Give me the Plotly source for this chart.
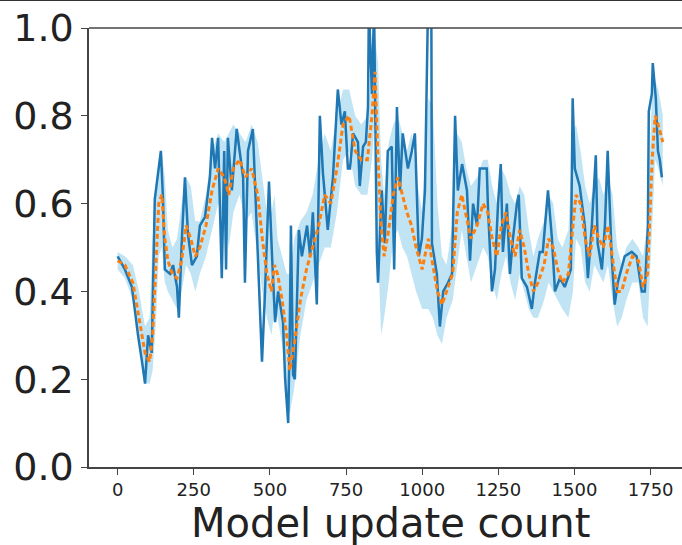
import plotly.graph_objects as go

# raw series (blue)
raw_x = [0, 24, 47, 57, 67, 80, 90, 100, 112, 122, 132, 142, 149, 155, 172, 182, 195, 201, 211, 221,
         231, 244, 260, 270, 287, 303, 310, 320, 330, 342, 350, 356, 362, 375, 391, 402, 412, 418, 428, 444,
         457, 467, 474, 484, 497, 507, 517, 527, 543, 550, 560, 565, 569, 576, 582, 595, 605, 622, 632, 641,
         654, 664, 674, 690, 707, 723, 735, 746, 756, 763, 773, 789, 795, 806, 815, 822, 825, 835, 842, 851,
         855, 867, 877, 887, 900, 908, 917, 927, 936, 953, 966, 976, 989, 999, 1009, 1019, 1030, 1032, 1048, 1058,
         1069, 1085, 1098, 1108, 1117, 1131, 1147, 1157, 1167, 1180, 1189, 1212, 1216, 1229, 1239, 1249, 1258, 1265, 1278, 1288,
         1298, 1311, 1317, 1327, 1344, 1360, 1370, 1386, 1396, 1413, 1426, 1436, 1452, 1468, 1488, 1494, 1501, 1517, 1534, 1544,
         1557, 1570, 1576, 1590, 1600, 1609, 1622, 1632, 1642, 1665, 1688, 1704, 1721, 1731, 1741, 1744, 1754, 1757, 1767, 1774,
         1780, 1787]
raw_y = [0.48, 0.45, 0.41, 0.35, 0.30, 0.24, 0.19, 0.30, 0.26, 0.61, 0.66, 0.72, 0.61, 0.45, 0.44, 0.46, 0.41, 0.34, 0.52, 0.66,
         0.53, 0.46, 0.48, 0.55, 0.57, 0.66, 0.75, 0.68, 0.75, 0.43, 0.72, 0.45, 0.75, 0.63, 0.77, 0.71, 0.66, 0.42, 0.72, 0.77,
         0.52, 0.33, 0.24, 0.40, 0.65, 0.48, 0.33, 0.40, 0.33, 0.20, 0.10, 0.30, 0.55, 0.21, 0.20, 0.54, 0.48, 0.55, 0.48, 0.58,
         0.37, 0.80, 0.67, 0.54, 0.66, 0.86, 0.78, 0.81, 0.68, 0.68, 0.76, 0.74, 0.64, 0.73, 0.74, 0.82, 1.05, 0.85, 1.05, 0.49,
         0.42, 0.63, 0.51, 0.72, 0.73, 0.45, 0.82, 0.63, 0.76, 0.68, 0.72, 0.76, 0.48, 0.52, 0.63, 1.05, 1.05, 0.51, 0.44, 0.32,
         0.40, 0.42, 0.44, 0.80, 0.63, 0.69, 0.63, 0.47, 0.60, 0.55, 0.68, 0.68, 0.59, 0.40, 0.45, 0.60, 0.69, 0.49, 0.60, 0.44,
         0.52, 0.60, 0.62, 0.43, 0.41, 0.36, 0.42, 0.49, 0.49, 0.63, 0.52, 0.40, 0.43, 0.41, 0.45, 0.84, 0.68, 0.64, 0.55, 0.43,
         0.55, 0.71, 0.51, 0.45, 0.55, 0.72, 0.48, 0.37, 0.42, 0.48, 0.49, 0.48, 0.40, 0.40, 0.55, 0.81, 0.85, 0.92, 0.84, 0.72,
         0.70, 0.66]

# smoothed series (orange) and band
smooth_x = [0, 24, 50, 70, 90, 105, 115, 125, 135, 145, 155, 165, 180, 195, 210, 225, 240, 255, 270, 290,
            310, 330, 350, 365, 380, 400, 420, 440, 460, 475, 490, 505, 515, 525, 540, 555, 565, 580, 600, 620,
            640, 660, 680, 700, 720, 740, 760, 780, 800, 820, 835, 845, 855, 865, 875, 890, 905, 920, 935, 950,
            965, 980, 1000, 1020, 1035, 1050, 1065, 1080, 1100, 1115, 1130, 1145, 1160, 1180, 1200, 1215, 1230, 1245, 1260, 1275,
            1290, 1305, 1320, 1335, 1350, 1365, 1380, 1400, 1415, 1430, 1445, 1460, 1480, 1495, 1505, 1520, 1535, 1550, 1565, 1580,
            1595, 1610, 1625, 1640, 1655, 1670, 1690, 1710, 1725, 1740, 1755, 1765, 1775, 1790]
smooth_y = [0.47, 0.46, 0.42, 0.34, 0.26, 0.24, 0.30, 0.45, 0.60, 0.62, 0.52, 0.47, 0.44, 0.43, 0.47, 0.55, 0.52, 0.48, 0.50, 0.55,
            0.63, 0.68, 0.66, 0.62, 0.68, 0.70, 0.66, 0.68, 0.62, 0.52, 0.44, 0.40, 0.46, 0.44, 0.38, 0.30, 0.22, 0.28, 0.38, 0.45,
            0.50, 0.55, 0.62, 0.60, 0.68, 0.78, 0.80, 0.72, 0.70, 0.70, 0.80, 0.90, 0.70, 0.55, 0.48, 0.54, 0.62, 0.66, 0.62, 0.58,
            0.55, 0.50, 0.45, 0.52, 0.46, 0.40, 0.37, 0.40, 0.44, 0.58, 0.62, 0.57, 0.52, 0.55, 0.60, 0.58, 0.52, 0.48, 0.55, 0.58,
            0.52, 0.48, 0.54, 0.50, 0.44, 0.40, 0.42, 0.46, 0.52, 0.50, 0.45, 0.42, 0.44, 0.55, 0.62, 0.60, 0.52, 0.48, 0.55, 0.52,
            0.50, 0.55, 0.48, 0.40, 0.40, 0.44, 0.48, 0.47, 0.41, 0.44, 0.70, 0.80, 0.78, 0.74]
band_upper = [0.49, 0.48, 0.46, 0.40, 0.32, 0.34, 0.52, 0.64, 0.70, 0.72, 0.66, 0.54, 0.50, 0.52, 0.60, 0.66, 0.64, 0.56, 0.56, 0.62,
              0.72, 0.76, 0.74, 0.76, 0.78, 0.76, 0.74, 0.78, 0.74, 0.66, 0.58, 0.58, 0.62, 0.52, 0.48, 0.44, 0.44, 0.52, 0.56, 0.58,
              0.62, 0.70, 0.76, 0.72, 0.80, 0.86, 0.86, 0.80, 0.78, 0.80, 0.92, 0.98, 0.92, 0.70, 0.62, 0.74, 0.78, 0.80, 0.76, 0.72,
              0.76, 0.66, 0.58, 0.84, 0.82, 0.60, 0.48, 0.46, 0.56, 0.76, 0.74, 0.68, 0.64, 0.66, 0.70, 0.70, 0.64, 0.60, 0.68, 0.66,
              0.62, 0.60, 0.64, 0.62, 0.54, 0.48, 0.52, 0.56, 0.62, 0.60, 0.52, 0.50, 0.54, 0.76, 0.78, 0.72, 0.64, 0.60, 0.64, 0.66,
              0.62, 0.66, 0.62, 0.50, 0.46, 0.50, 0.52, 0.50, 0.48, 0.56, 0.86, 0.88, 0.86, 0.80]
band_lower = [0.45, 0.43, 0.38, 0.28, 0.19, 0.19, 0.22, 0.32, 0.48, 0.50, 0.42, 0.40, 0.38, 0.36, 0.40, 0.46, 0.44, 0.40, 0.44, 0.48,
              0.54, 0.60, 0.56, 0.50, 0.58, 0.62, 0.56, 0.58, 0.48, 0.40, 0.34, 0.30, 0.36, 0.34, 0.28, 0.18, 0.12, 0.18, 0.30, 0.38,
              0.42, 0.46, 0.50, 0.50, 0.58, 0.70, 0.72, 0.64, 0.62, 0.62, 0.70, 0.80, 0.50, 0.30, 0.34, 0.42, 0.52, 0.54, 0.50, 0.48,
              0.44, 0.40, 0.36, 0.36, 0.34, 0.30, 0.28, 0.34, 0.38, 0.46, 0.54, 0.48, 0.42, 0.46, 0.50, 0.48, 0.42, 0.38, 0.44, 0.48,
              0.42, 0.38, 0.44, 0.40, 0.36, 0.34, 0.34, 0.38, 0.42, 0.40, 0.38, 0.36, 0.34, 0.40, 0.52, 0.50, 0.42, 0.40, 0.46, 0.44,
              0.42, 0.46, 0.38, 0.32, 0.34, 0.38, 0.42, 0.42, 0.34, 0.32, 0.54, 0.70, 0.68, 0.64]

x_ticks = [0, 250, 500, 750, 1000, 1250, 1500, 1750]
y_ticks = [0.0, 0.2, 0.4, 0.6, 0.8, 1.0]
x_title = "Model update count"

FONT = "DejaVu Sans"
fig = go.Figure()

fig.add_trace(go.Scatter(x=smooth_x, y=band_lower, mode="lines", line=dict(width=0),
                         showlegend=False, hoverinfo="skip"))
fig.add_trace(go.Scatter(x=smooth_x, y=band_upper, mode="lines", line=dict(width=0),
                         fill="tonexty", fillcolor="rgba(140,205,235,0.55)",
                         showlegend=False, hoverinfo="skip"))
fig.add_trace(go.Scatter(x=raw_x, y=raw_y, mode="lines",
                         line=dict(color="#1f77b4", width=2.5), showlegend=False))
fig.add_trace(go.Scatter(x=smooth_x, y=smooth_y, mode="lines",
                         line=dict(color="#ff7f0e", width=3, dash="5px,3px"), showlegend=False))

fig.update_layout(
    width=682, height=545,
    margin=dict(l=89, r=0, t=28, b=78),
    plot_bgcolor="white", paper_bgcolor="white",
    font=dict(family=FONT, color="black"),
    xaxis=dict(range=[-94, 1853], tickvals=x_ticks, ticktext=[str(v) for v in x_ticks],
               showgrid=False, zeroline=False, showline=True, linecolor="#444", linewidth=1.5,
               ticks="outside", ticklen=6, tickcolor="#444", tickwidth=1.2,
               tickfont=dict(size=18, family=FONT, color="#222")),
    yaxis=dict(range=[0, 1], tickvals=y_ticks, ticktext=[f"{v:.1f}" for v in y_ticks],
               showgrid=False, zeroline=False, showline=True, linecolor="#444", linewidth=1.5,
               ticks="outside", ticklen=6, tickcolor="#444", tickwidth=1.2,
               tickfont=dict(size=38, family=FONT, color="#222")),
    shapes=[
        dict(type="line", xref="paper", yref="paper", x0=0, x1=1, y0=1, y1=1,
             line=dict(color="#444", width=1.5)),
        dict(type="line", xref="paper", yref="paper", x0=-0.2, x1=1.0, y0=1.0638, y1=1.0638,
             line=dict(color="#333", width=2)),
    ],
    annotations=[dict(text=x_title, xref="paper", yref="paper", x=0.509, y=-0.128,
                      xanchor="center", yanchor="middle", showarrow=False,
                      font=dict(size=40, family=FONT, color="#222"))],
)

fig.write_html("out.html")
